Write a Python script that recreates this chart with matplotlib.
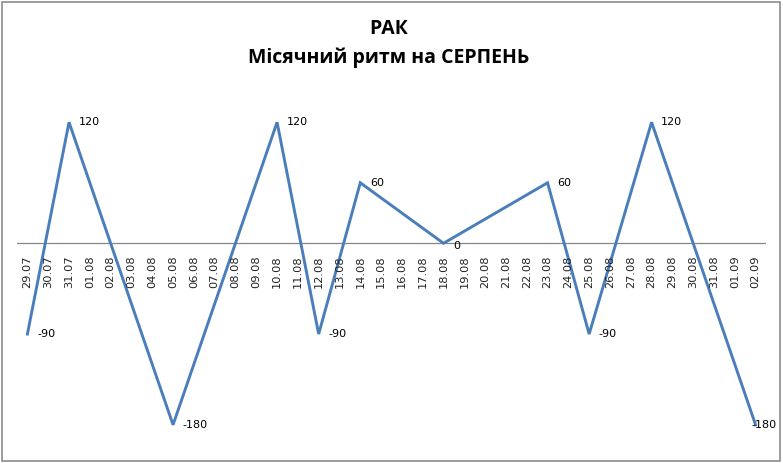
import matplotlib
matplotlib.use("Agg")
import matplotlib.pyplot as plt
from matplotlib.patches import Rectangle

# categories: every day 29.07 .. 02.09
dates = ["29.07", "30.07", "31.07"] + [f"{d:02d}.08" for d in range(1, 32)] + ["01.09", "02.09"]

# only some days carry a value; the line connects them
point_dates = ["29.07", "31.07", "05.08", "10.08", "12.08", "14.08",
               "18.08", "23.08", "25.08", "28.08", "02.09"]
point_values = [-90, 120, -180, 120, -90, 60, 0, 60, -90, 120, -180]

LINE = "#4A7EBB"

fig = plt.figure(figsize=(7.83, 4.63), dpi=100)
fig.patch.set_facecolor("white")
fig.patches.append(Rectangle((2 / 783, 2 / 463), 778 / 783, 459 / 463,
                             transform=fig.transFigure, fill=False,
                             edgecolor="#8C8C8C", linewidth=1.2))

ax = fig.add_axes([17 / 783, 18 / 463, 749 / 783, 353 / 463])
idx = [dates.index(d) for d in point_dates]
ax.plot(idx, point_values, color=LINE, linewidth=2.1, solid_joinstyle="miter")

ax.axhline(0, color="#868686", linewidth=0.9, zorder=0)
ax.set_xlim(-0.5, len(dates) - 0.5)
ax.set_ylim(-200, 150)
ax.axis("off")

for i, d in enumerate(dates):
    ax.annotate(d, (i, 0), xytext=(0, -9), textcoords="offset points",
                rotation=90, ha="center", va="top", fontsize=8.2,
                color="#222222")

# data labels to the right of each point; the last one is pulled back in
for n, (i, v) in enumerate(zip(idx, point_values)):
    dx = 7 if n < len(idx) - 1 else -3
    ax.annotate(str(v), (i, v), xytext=(dx, 0 if v else -2),
                textcoords="offset points", ha="left", va="center",
                fontsize=8, color="black")

fig.text(0.497, 0.938, "РАК", ha="center", va="center",
         fontsize=14, fontweight="bold", family="Open Sans")
fig.text(0.497, 0.876, "Місячний ритм на СЕРПЕНЬ", ha="center", va="center",
         fontsize=14, fontweight="bold", family="Open Sans")

fig.savefig("out.png", dpi=100)
